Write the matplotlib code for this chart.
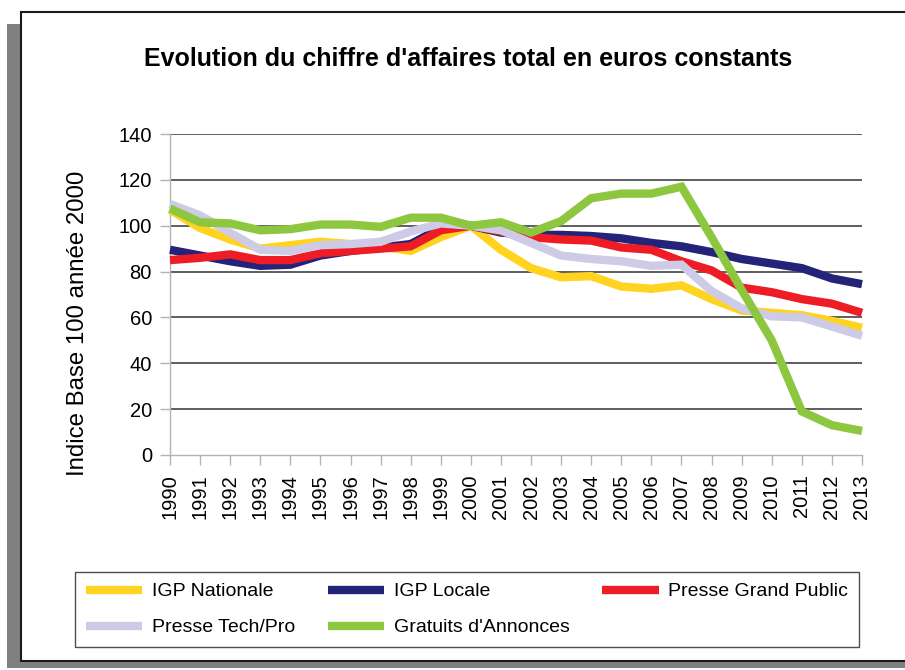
import matplotlib
matplotlib.use("Agg")
import matplotlib.pyplot as plt
from matplotlib.patches import Rectangle

plt.rcParams['font.family'] = ['Liberation Sans', 'DejaVu Sans']

years = list(range(1990, 2014))
igp_nationale = [107, 99, 94, 90, 91.5, 93, 92, 91, 89, 95, 100, 89.5, 81.5, 77.5,
                 78, 73.5, 72.5, 74, 68, 63, 62, 61, 58.5, 55.5]
igp_locale = [89.5, 87, 84.5, 82.5, 83, 87, 89, 90.5, 92, 99, 100, 97, 96, 96,
              95.5, 94.5, 92.5, 91, 88.5, 85.5, 83.5, 81.5, 77, 74.5]
presse_gp = [85, 86, 87.5, 85, 85, 88, 89, 90, 91, 98, 100, 97.5, 95, 94,
             93.5, 90.5, 89.5, 84.5, 80.5, 73, 71, 68, 66, 62]
presse_tech = [109.5, 104.5, 97, 89.5, 89, 91.5, 92, 93, 97.5, 101, 100, 98, 92.5, 87,
               85.5, 84.5, 82.5, 83, 71.5, 64, 60.5, 60, 56, 52]
gratuits = [107.5, 101.5, 101, 98, 98.5, 100.5, 100.5, 99.5, 103.5, 103.5, 100, 101.5, 97, 102,
            112, 114, 114, 117, 95, 72, 50, 19, 13, 10.5]

series_names = ["IGP Nationale", "IGP Locale", "Presse Grand Public", "Presse Tech/Pro", "Gratuits d'Annonces"]
series_values = [igp_nationale, igp_locale, presse_gp, presse_tech, gratuits]
series_colors = ["#FFD320", "#23237A", "#EE1D25", "#CECBE6", "#8DC63F"]

title = "Evolution du chiffre d'affaires total en euros constants"
ylabel = "Indice Base 100 année 2000"
yticks = list(range(0, 141, 20))

W, H = 905, 670
fig = plt.figure(figsize=(W / 100, H / 100), dpi=100)

def fx(px):
    return px / W

def fy(py):
    return 1 - py / H

# shadow + frame
fig.patches.append(Rectangle((fx(7), fy(668)), fx(920) - fx(7), fy(24) - fy(668),
                             transform=fig.transFigure, facecolor="#808080", edgecolor="none", zorder=0))
fig.patches.append(Rectangle((fx(20.5), fy(661)), fx(930) - fx(20.5), fy(11.5) - fy(661),
                             transform=fig.transFigure, facecolor="white", edgecolor="#1a1a1a",
                             linewidth=1.5, zorder=1))

ax = fig.add_axes([fx(170), fy(455), fx(862) - fx(170), fy(134) - fy(455)])
ax.set_zorder(3)
ax.set_facecolor("none")

lines = []
for name, vals, col in zip(series_names, series_values, series_colors):
    ln, = ax.plot(years, vals, color=col, linewidth=6, label=name, zorder=3,
                  solid_joinstyle='miter', solid_capstyle='butt', clip_on=False)
    lines.append(ln)

for v in yticks[1:]:
    ax.axhline(v, color="#333333", linewidth=1.1, zorder=1)

ax.set_xlim(1990, 2013)
ax.set_ylim(0, 140)
ax.set_yticks(yticks)
ax.set_xticks(years)
ax.set_xticklabels([str(y) for y in years], rotation=90, fontsize=14.5)
ax.set_yticklabels([str(v) for v in yticks], fontsize=14.5)
ax.tick_params(axis='both', direction='out', length=7, width=1, color="#b3b3b3")
ax.tick_params(axis='y', pad=6)
ax.tick_params(axis='x', pad=7)
for s in ["top", "right"]:
    ax.spines[s].set_visible(False)
for s in ["left", "bottom"]:
    ax.spines[s].set_color("#b3b3b3")
    ax.spines[s].set_linewidth(1)
    ax.spines[s].set_zorder(2)

fig.text(fx(468), fy(59), title, fontsize=18, fontweight='bold', ha='center', va='center', zorder=4)
fig.text(fx(78), fy(323), ylabel, fontsize=17.3, rotation=90, ha='center', va='center', zorder=4)

# legend: row-major order in 3 columns
order = [0, 3, 1, 4, 2]
leg = fig.legend([lines[i] for i in order], [series_names[i] for i in order],
                 ncol=3, loc='upper left', mode='expand',
                 bbox_to_anchor=(fx(75), fy(647), fx(859) - fx(75), fy(572) - fy(647)),
                 bbox_transform=fig.transFigure, borderaxespad=0,
                 fontsize=14, handlelength=2.9, handletextpad=0.5, labelspacing=0.95,
                 frameon=True, fancybox=False, edgecolor="#222222", borderpad=0.55)
leg.get_frame().set_linewidth(1.0)
leg.set_zorder(5)

fig.savefig("out.png", dpi=100)
